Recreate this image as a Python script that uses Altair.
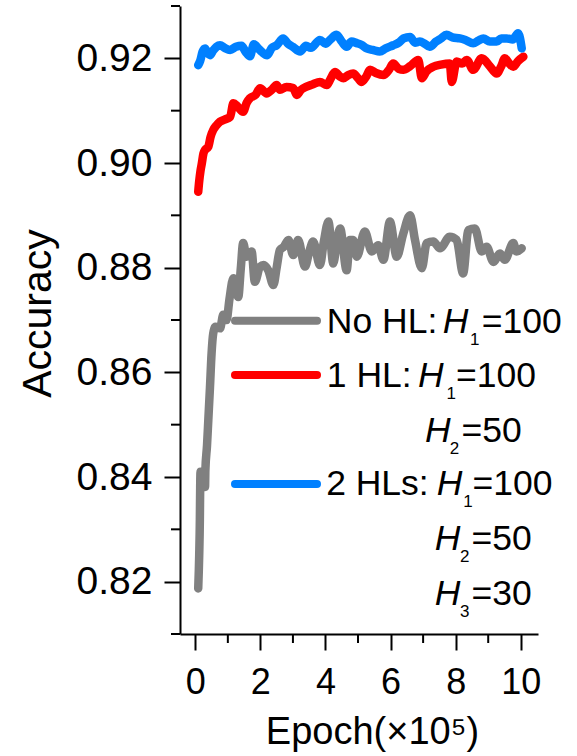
import altair as alt
import pandas as pd

# ---------------- data ----------------
series_names = ["No HL", "1 HL", "2 HLs"]
series_colors = ["#808080", "#FF0000", "#0080FF"]

gray_x = [0.09, 0.12, 0.14, 0.15, 0.16, 0.22, 0.30, 0.31, 0.36, 0.40, 0.45, 0.50, 0.55, 0.62, 0.76,
          0.86, 0.96, 1.05, 1.17, 1.25, 1.32, 1.40, 1.47, 1.58, 1.73, 1.83, 1.99, 2.10, 2.24, 2.40,
          2.50, 2.60, 2.72, 2.86, 3.01, 3.16, 3.37, 3.50, 3.62, 3.83, 3.95, 4.09, 4.24, 4.35, 4.45,
          4.65, 4.75, 4.85, 4.96, 5.21, 5.42, 5.62, 5.78, 5.98, 6.19, 6.39, 6.60, 6.75, 6.96, 7.11,
          7.31, 7.52, 7.82, 8.03, 8.23, 8.39, 8.59, 8.80, 8.95, 9.16, 9.36, 9.51, 9.77, 9.87, 10.03]
gray_y = [0.8187, 0.8250, 0.8318, 0.8380, 0.8410, 0.8400, 0.8381, 0.8413, 0.8460, 0.8509, 0.8570,
          0.8636, 0.8674, 0.8687, 0.8684, 0.8710, 0.8700, 0.8740, 0.8780, 0.8760, 0.8744, 0.8800,
          0.8847, 0.8821, 0.8831, 0.8773, 0.8802, 0.8805, 0.8795, 0.8767, 0.8800, 0.8834, 0.8840,
          0.8853, 0.8824, 0.8853, 0.8802, 0.8830, 0.8850, 0.8805, 0.8850, 0.8888, 0.8808, 0.8850,
          0.8875, 0.8795, 0.8853, 0.8853, 0.8821, 0.8869, 0.8831, 0.8843, 0.8815, 0.8888, 0.8821,
          0.8865, 0.8900, 0.8853, 0.8799, 0.8847, 0.8850, 0.8837, 0.8859, 0.8853, 0.8789, 0.8872,
          0.8875, 0.8831, 0.8840, 0.8811, 0.8827, 0.8815, 0.8847, 0.8831, 0.8837]

red_x = [0.09, 0.12, 0.16, 0.20, 0.25, 0.30, 0.40, 0.47, 0.55, 0.65, 0.76, 0.90, 1.07, 1.17, 1.30,
         1.47, 1.58, 1.68, 1.85, 1.99, 2.19, 2.35, 2.50, 2.60, 2.80, 3.01, 3.12, 3.25, 3.42, 3.60,
         3.83, 4.04, 4.15, 4.29, 4.45, 4.55, 4.70, 4.85, 5.00, 5.11, 5.25, 5.37, 5.55, 5.78, 5.95,
         6.08, 6.25, 6.39, 6.60, 6.85, 6.96, 7.10, 7.31, 7.55, 7.82, 7.88, 8.03, 8.20, 8.34, 8.54,
         8.80, 9.05, 9.26, 9.40, 9.51, 9.65, 9.77, 9.92, 10.08]
red_y = [0.8945, 0.8965, 0.8985, 0.8999, 0.9018, 0.9025, 0.9031, 0.9050, 0.9063, 0.9072, 0.9079,
         0.9083, 0.9088, 0.9114, 0.9108, 0.9098, 0.9115, 0.9124, 0.9130, 0.9143, 0.9133, 0.9140,
         0.9149, 0.9140, 0.9145, 0.9143, 0.9130, 0.9140, 0.9146, 0.9150, 0.9155, 0.9149, 0.9160,
         0.9174, 0.9165, 0.9162, 0.9168, 0.9171, 0.9162, 0.9155, 0.9165, 0.9178, 0.9172, 0.9168,
         0.9178, 0.9190, 0.9180, 0.9178, 0.9185, 0.9197, 0.9162, 0.9175, 0.9184, 0.9188, 0.9190,
         0.9155, 0.9194, 0.9190, 0.9197, 0.9178, 0.9200, 0.9185, 0.9171, 0.9185, 0.9200, 0.9190,
         0.9184, 0.9195, 0.9203]

blue_x = [0.09, 0.15, 0.22, 0.30, 0.38, 0.45, 0.55, 0.65, 0.76, 0.90, 1.07, 1.25, 1.42, 1.55, 1.68,
          1.80, 1.95, 2.05, 2.21, 2.35, 2.50, 2.70, 2.85, 3.00, 3.22, 3.40, 3.55, 3.83, 4.00, 4.15,
          4.34, 4.50, 4.65, 4.80, 4.96, 5.10, 5.27, 5.45, 5.67, 5.85, 6.08, 6.25, 6.40, 6.60, 6.75,
          6.90, 7.05, 7.20, 7.40, 7.55, 7.72, 7.90, 8.13, 8.30, 8.54, 8.70, 8.85, 9.05, 9.26, 9.40,
          9.57, 9.75, 9.92, 10.03]
blue_y = [0.9187, 0.9195, 0.9212, 0.9219, 0.9210, 0.9206, 0.9215, 0.9222, 0.9225, 0.9220, 0.9216,
          0.9222, 0.9224, 0.9212, 0.9204, 0.9227, 0.9218, 0.9212, 0.9206, 0.9220, 0.9225, 0.9238,
          0.9228, 0.9222, 0.9213, 0.9224, 0.9220, 0.9235, 0.9228, 0.9236, 0.9245, 0.9232, 0.9222,
          0.9232, 0.9229, 0.9226, 0.9219, 0.9216, 0.9213, 0.9219, 0.9225, 0.9230, 0.9238, 0.9241,
          0.9230, 0.9232, 0.9228, 0.9222, 0.9232, 0.9238, 0.9245, 0.9240, 0.9238, 0.9235, 0.9229,
          0.9234, 0.9238, 0.9232, 0.9232, 0.9238, 0.9238, 0.9236, 0.9248, 0.9219]

x_major = [0, 2, 4, 6, 8, 10]
x_minor = [1, 3, 5, 7, 9]
y_major = [0.82, 0.84, 0.86, 0.88, 0.90, 0.92]
y_minor = [0.81, 0.83, 0.85, 0.87, 0.89, 0.91, 0.93]

# legend texts
leg_main = ["No HL: ", "1 HL: ", "2 HLs: "]
leg_frag_text = ["=100", "=100", "=50", "=100", "=50", "=30"]
leg_sub_text = ["1", "1", "2", "1", "2", "3"]

# ---------------- layout ----------------
X_DOM = [-0.47, 10.53]
Y_DOM = [0.81, 0.93]
FONT = "Liberation Sans"

leg_line_x, leg_line_x2 = 1.22, 3.74
leg_line_y = [0.86986, 0.85949, 0.83866]
row_y = [0.86757, 0.85725, 0.84674, 0.83655, 0.82604, 0.81553]
main_rows = [0, 1, 3]
main_x = [4.04, 4.04, 4.02]
h_x = [7.60, 6.84, 7.06, 7.42, 7.36, 7.36]
sub_x = [8.44, 7.72, 7.82, 8.23, 8.13, 8.13]
frag_x = [8.80, 8.01, 8.18, 8.52, 8.49, 8.49]

# ---------------- tables ----------------
rows = []
for name, xs_, ys_ in zip(series_names, [gray_x, red_x, blue_x], [gray_y, red_y, blue_y]):
    for a, b in zip(xs_, ys_):
        rows.append({"series": name, "x": a, "y": b})
df = pd.DataFrame(rows)

xs = alt.Scale(domain=X_DOM, nice=False, zero=False)
ys = alt.Scale(domain=Y_DOM, nice=False, zero=False)
color = alt.Color("series:N", scale=alt.Scale(domain=series_names, range=series_colors), legend=None)

x_axis = alt.Axis(
    values=x_major, format="d", tickSize=16, labelPadding=15, labelFontSize=36,
    title="Epoch(×10⁵)", titleFontSize=38, titleFontWeight="normal",
    titleX=192, titleY=109, titleBaseline="alphabetic", titleAlign="center")
y_axis = alt.Axis(
    values=y_major, format=".2f", tickSize=16, labelPadding=12, labelFontSize=39,
    title="Accuracy", titleFontSize=41, titleFontWeight="normal",
    titleX=-130, titleY=307, titleAngle=270, titleBaseline="alphabetic", titleAlign="center")

X = lambda f: alt.X(f, scale=xs, axis=x_axis)
Y = lambda f: alt.Y(f, scale=ys, axis=y_axis)

lines = alt.Chart(df).mark_line(strokeWidth=8.5, strokeCap="round", strokeJoin="round",
                                interpolate="monotone").encode(
    x=X("x:Q"), y=Y("y:Q"), color=color, order="x:Q")

ymin_df = pd.DataFrame({"y": y_minor})
xmin_df = pd.DataFrame({"x": x_minor})
y_minor_ticks = alt.Chart(ymin_df).mark_rule(color="black", strokeWidth=2).encode(
    y=Y("y:Q"), x=alt.value(0), x2=alt.value(-9))
x_minor_ticks = alt.Chart(xmin_df).mark_rule(color="black", strokeWidth=2).encode(
    x=X("x:Q"), y=alt.value(628), y2=alt.value(637))

leg_lines_df = pd.DataFrame({"series": series_names, "x": [leg_line_x] * 3,
                             "x2": [leg_line_x2] * 3, "y": leg_line_y})
leg_lines = alt.Chart(leg_lines_df).mark_rule(strokeWidth=8, strokeCap="round").encode(
    x=X("x:Q"), x2="x2:Q", y=Y("y:Q"), color=color)

normal_rows = []
for t, r, xx in zip(leg_main, main_rows, main_x):
    normal_rows.append({"t": t, "x": xx, "y": row_y[r]})
for i, t in enumerate(leg_frag_text):
    normal_rows.append({"t": t, "x": frag_x[i], "y": row_y[i]})
normal_df = pd.DataFrame(normal_rows)
h_df = pd.DataFrame({"t": ["H"] * 6, "x": h_x, "y": row_y})
sub_df = pd.DataFrame({"t": leg_sub_text, "x": sub_x, "y": row_y})

def text_layer(d, size, style="normal", dy=0):
    return alt.Chart(d).mark_text(font=FONT, fontSize=size, fontStyle=style, align="left",
                                  baseline="alphabetic", color="black", dy=dy).encode(
        x=X("x:Q"), y=Y("y:Q"), text="t:N")

leg_text = text_layer(normal_df, 35.5)
leg_h = text_layer(h_df, 35.5, "italic")
leg_sub = text_layer(sub_df, 17, dy=12)

chart = alt.layer(lines, y_minor_ticks, x_minor_ticks, leg_lines, leg_text, leg_h, leg_sub).properties(
    width=358, height=628,
    padding={"left": 180, "top": 6, "right": 39, "bottom": 122},
    autosize="none",
    background="white",
).configure_view(stroke=None).configure_axis(
    grid=False, domainColor="black", domainWidth=2, tickColor="black", tickWidth=2,
    labelFont=FONT, titleFont=FONT, labelColor="black", titleColor="black",
    labelFlush=False, labelOverlap=False, labelBound=False,
)

chart.save("out.html", embed_options={"renderer": "svg", "actions": False})
